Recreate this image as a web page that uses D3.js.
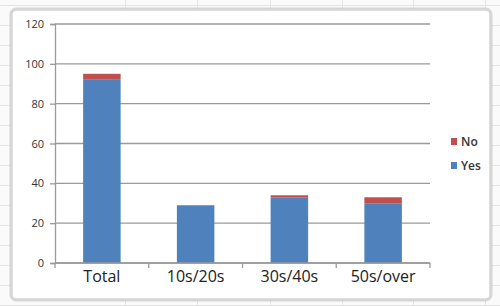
<!DOCTYPE html>
<html>
<head>
<meta charset="utf-8">
<script src="https://cdn.jsdelivr.net/npm/d3@7"></script>
<style>
  body { margin: 0; background: #fff; }
  svg { display: block; font-family: "Open Sans", sans-serif; }
</style>
</head>
<body>
<div id="chart"></div>
<script>
// data
var categories = ["Total", "10s/20s", "30s/40s", "50s/over"];
var yesValues = [92, 29, 33, 30];
var noValues = [3, 0, 1, 3];
var yTicks = [0, 20, 40, 60, 80, 100, 120];
var seriesNames = ["No", "Yes"];

var width = 500, height = 306;
var plot = {left: 55, right: 430, top: 24, bottom: 263};

var svg = d3.select("#chart").append("svg")
    .attr("width", width)
    .attr("height", height);

// spreadsheet behind the chart
var sheet = svg.append("g");
sheet.append("rect")
    .attr("width", width).attr("height", height)
    .attr("fill", "#fafafa");
d3.range(5, height, 20).forEach(function(y) {
    sheet.append("line")
        .attr("x1", 0).attr("x2", width)
        .attr("y1", y + 0.5).attr("y2", y + 0.5)
        .attr("stroke", "#e4e4e4");
});
[125, 197, 270, 342, 413, 485].forEach(function(x) {
    sheet.append("line")
        .attr("x1", x + 0.5).attr("x2", x + 0.5)
        .attr("y1", 0).attr("y2", height)
        .attr("stroke", "#e4e4e4");
});

// chart area frame
svg.append("rect")
    .attr("x", 11.5).attr("y", 9.5)
    .attr("width", 479).attr("height", 290)
    .attr("rx", 5)
    .attr("fill", "#fff")
    .attr("stroke", "#d6d6d6")
    .attr("stroke-width", 2.5);
svg.append("rect")
    .attr("x", 10).attr("y", 8)
    .attr("width", 482).attr("height", 293)
    .attr("rx", 6)
    .attr("fill", "none")
    .attr("stroke", "#c4c4c4")
    .attr("stroke-width", 0.7);

// scales
var x = d3.scaleBand()
    .domain(categories)
    .range([plot.left, plot.right])
    .paddingInner(0.6)
    .paddingOuter(0.3);

var y = d3.scaleLinear()
    .domain([0, 120])
    .range([plot.bottom, plot.top]);

// gridlines
svg.append("g")
    .selectAll("line")
    .data(yTicks)
    .enter().append("line")
    .attr("x1", plot.left).attr("x2", plot.right)
    .attr("y1", function(d) { return y(d); })
    .attr("y2", function(d) { return y(d); })
    .attr("stroke", "#9a9a9a")
    .attr("stroke-width", 1.3);

// y axis
var yAxis = svg.append("g")
    .attr("transform", "translate(" + plot.left + ",0)")
    .call(d3.axisLeft(y).tickValues(yTicks).tickSize(5).tickPadding(6));
yAxis.select(".domain").attr("stroke", "#9a9a9a").attr("stroke-width", 1.3);
yAxis.selectAll(".tick line").attr("stroke", "#9a9a9a").attr("stroke-width", 1.3);
yAxis.selectAll("text")
    .attr("font-size", 11)
    .attr("fill", "#333")
    .attr("font-family", "Open Sans, sans-serif");

// stacked bars
var rows = categories.map(function(c, i) {
    return {cat: c, Yes: yesValues[i], No: noValues[i]};
});
var stack = d3.stack().keys(["Yes", "No"])(rows);
var colors = {Yes: "#4f81bd", No: "#c0504d"};

svg.append("g")
    .selectAll("g")
    .data(stack)
    .enter().append("g")
    .attr("fill", function(d) { return colors[d.key]; })
    .selectAll("rect")
    .data(function(d) { return d; })
    .enter().append("rect")
    .attr("x", function(d) { return x(d.data.cat); })
    .attr("width", x.bandwidth())
    .attr("y", function(d) { return y(d[1]); })
    .attr("height", function(d) { return y(d[0]) - y(d[1]); });

// x axis: ticks on category boundaries
var xAxis = svg.append("g")
    .attr("transform", "translate(0," + plot.bottom + ")");
xAxis.append("line")
    .attr("x1", plot.left).attr("x2", plot.right)
    .attr("stroke", "#9a9a9a").attr("stroke-width", 1.3);
var step = x.step();
xAxis.selectAll(".bound")
    .data(d3.range(categories.length + 1))
    .enter().append("line")
    .attr("x1", function(i) { return plot.left + i * step; })
    .attr("x2", function(i) { return plot.left + i * step; })
    .attr("y1", 0).attr("y2", 5)
    .attr("stroke", "#9a9a9a").attr("stroke-width", 1.3);
xAxis.selectAll("text")
    .data(categories)
    .enter().append("text")
    .attr("x", function(d) { return x(d) + x.bandwidth() / 2; })
    .attr("y", 19)
    .attr("text-anchor", "middle")
    .attr("font-size", 16)
    .attr("fill", "#222")
    .text(function(d) { return d; });

// legend
var legend = svg.append("g")
    .selectAll("g")
    .data(seriesNames)
    .enter().append("g")
    .attr("transform", function(d, i) { return "translate(451," + (138 + i * 24) + ")"; });
legend.append("rect")
    .attr("width", 6).attr("height", 7)
    .attr("fill", function(d) { return colors[d]; });
legend.append("text")
    .attr("x", 10).attr("y", 8)
    .attr("font-size", 12)
    .attr("font-weight", 600)
    .attr("fill", "#333")
    .text(function(d) { return d; });
</script>
</body>
</html>
